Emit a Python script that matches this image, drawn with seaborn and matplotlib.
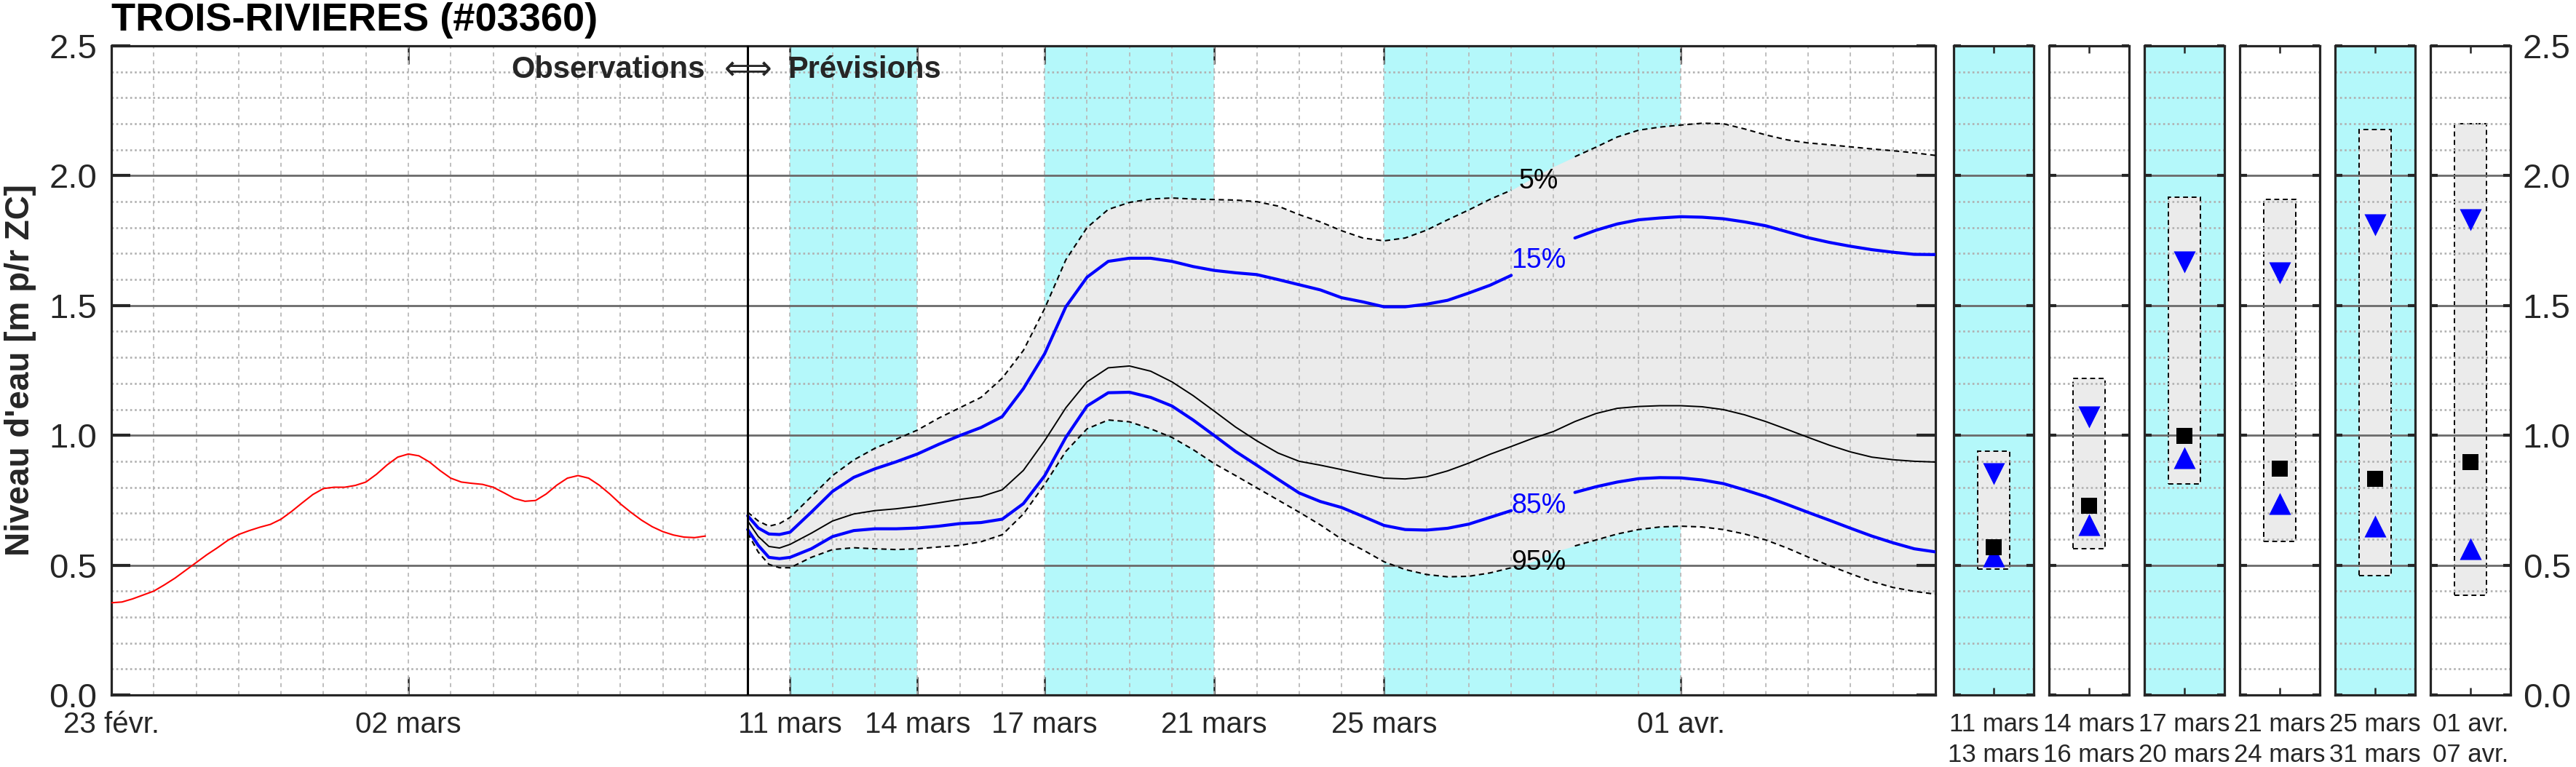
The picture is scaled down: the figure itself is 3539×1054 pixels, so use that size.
import numpy as np
import pandas as pd
import matplotlib
matplotlib.use("Agg")
import matplotlib.pyplot as plt
import seaborn as sns
from matplotlib.ticker import MultipleLocator

# ---------------- data (days counted from 23 févr.) ----------------
obs_days = list(np.arange(0, 14.01, 0.25))
obs_level = [0.355, 0.358, 0.37, 0.385, 0.40, 0.424, 0.45, 0.48, 0.51, 0.54,
             0.567, 0.596, 0.618, 0.633, 0.646, 0.657, 0.677, 0.707, 0.74, 0.772,
             0.795, 0.80, 0.80, 0.807, 0.82, 0.85, 0.886, 0.916, 0.928, 0.921,
             0.897, 0.864, 0.835, 0.82, 0.815, 0.811, 0.80, 0.779, 0.757, 0.746,
             0.749, 0.774, 0.808, 0.835, 0.845, 0.835, 0.808, 0.774, 0.736, 0.703,
             0.673, 0.648, 0.629, 0.616, 0.608, 0.606, 0.612]

fc_days = [15, 15.25, 15.5, 15.75] + list(np.arange(16, 43.01, 0.5))
q05 = [0.704, 0.67, 0.65, 0.66,
       0.684, 0.764, 0.845, 0.905, 0.95, 0.985, 1.02, 1.066, 1.106, 1.146,
       1.22, 1.327, 1.488, 1.676, 1.80, 1.87, 1.897, 1.91, 1.914, 1.91,
       1.908, 1.906, 1.90, 1.883, 1.85, 1.822, 1.788, 1.76, 1.749, 1.76,
       1.79, 1.83, 1.868, 1.909, 1.944, 1.99, 2.035, 2.073, 2.11, 2.149,
       2.175, 2.187, 2.195, 2.202, 2.20, 2.18, 2.157, 2.138, 2.126, 2.119,
       2.111, 2.103, 2.096, 2.088, 2.078]
q15 = [0.69, 0.643, 0.62, 0.618,
       0.627, 0.704, 0.784, 0.838, 0.871, 0.898, 0.928, 0.965, 0.999, 1.03,
       1.072, 1.18, 1.314, 1.495, 1.609, 1.67, 1.682, 1.682, 1.67, 1.65,
       1.635, 1.626, 1.619, 1.60, 1.58, 1.56, 1.53, 1.514, 1.495, 1.495,
       1.505, 1.52, 1.548, 1.578, 1.616, 1.67, 1.73, 1.76, 1.79, 1.814,
       1.83, 1.837, 1.842, 1.84, 1.834, 1.822, 1.807, 1.784, 1.761, 1.743,
       1.728, 1.715, 1.705, 1.697, 1.696]
q50 = [0.67, 0.61, 0.572, 0.566,
       0.58, 0.623, 0.67, 0.697, 0.71, 0.717, 0.727, 0.74, 0.753, 0.764,
       0.79, 0.865, 0.979, 1.106, 1.206, 1.26, 1.267, 1.247, 1.206, 1.153,
       1.093, 1.032, 0.979, 0.932, 0.90, 0.885, 0.868, 0.85, 0.835, 0.832,
       0.84, 0.863, 0.893, 0.927, 0.957, 0.988, 1.015, 1.053, 1.084, 1.104,
       1.111, 1.114, 1.114, 1.11, 1.099, 1.079, 1.053, 1.023, 0.992, 0.962,
       0.936, 0.916, 0.906, 0.90, 0.897]
q85 = [0.637, 0.576, 0.53, 0.525,
       0.53, 0.563, 0.61, 0.633, 0.64, 0.64, 0.643, 0.65, 0.66, 0.664,
       0.677, 0.737, 0.844, 0.992, 1.113, 1.164, 1.166, 1.146, 1.113, 1.059,
       0.999, 0.938, 0.885, 0.831, 0.778, 0.745, 0.722, 0.688, 0.653, 0.637,
       0.635, 0.642, 0.658, 0.684, 0.71, 0.74, 0.764, 0.78, 0.802, 0.82,
       0.833, 0.837, 0.836, 0.828, 0.814, 0.79, 0.764, 0.734, 0.703, 0.673,
       0.642, 0.612, 0.586, 0.563, 0.551]
q95 = [0.623, 0.55, 0.503, 0.49,
       0.49, 0.53, 0.56, 0.567, 0.563, 0.56, 0.563, 0.57, 0.576, 0.59,
       0.617, 0.697, 0.811, 0.938, 1.025, 1.059, 1.052, 1.025, 0.992, 0.945,
       0.891, 0.845, 0.798, 0.751, 0.704, 0.655, 0.60, 0.559, 0.513, 0.483,
       0.464, 0.455, 0.457, 0.47, 0.49, 0.513, 0.551, 0.574, 0.597, 0.62,
       0.637, 0.647, 0.65, 0.647, 0.637, 0.62, 0.597, 0.566, 0.531, 0.498,
       0.467, 0.437, 0.414, 0.399, 0.388]

major_days = [0, 7, 16, 19, 22, 26, 30, 37]
major_labels = ["23 févr.", "02 mars", "11 mars", "14 mars", "17 mars",
                "21 mars", "25 mars", "01 avr."]
forecast_start = 15
x_end = 43

period_start = [16, 19, 22, 26, 30, 37]
period_end = [19, 22, 26, 30, 37, 43]
period_labels = ["11 mars\n13 mars", "14 mars\n16 mars", "17 mars\n20 mars",
                 "21 mars\n24 mars", "25 mars\n31 mars", "01 avr.\n07 avr."]
period_shaded = [True, False, True, False, True, False]

panel_hi = [0.939, 1.22, 1.916, 1.908, 2.177, 2.20]
panel_lo = [0.485, 0.563, 0.813, 0.592, 0.46, 0.384]
panel_q15 = [0.852, 1.07, 1.669, 1.625, 1.81, 1.83]
panel_med = [0.57, 0.728, 0.997, 0.872, 0.832, 0.898]
panel_q85 = [0.534, 0.655, 0.915, 0.737, 0.649, 0.563]

pct_labels = ["5%", "15%", "85%", "95%"]
pct_colors = ["black", "blue", "blue", "black"]
pct_y = [1.98, 1.674, 0.73, 0.51]
pct_x = 33.65

# ---------------- style ----------------
sns.set_theme(style="white")
plt.rcParams['font.family'] = ['Liberation Sans', 'DejaVu Sans']

CYAN = '#b4f8fa'
GRAYFILL = '#ebebeb'
SPINE = '#262626'
DASH = (0, (3.5, 2.5))

W, H = 3539, 1054
fig = plt.figure(figsize=(W / 100, H / 100), dpi=100)
fig.patch.set_facecolor('white')

ax_bottom = (H - 955) / H
ax_height = (955 - 63) / H
ax = fig.add_axes([153 / W, ax_bottom, (2659 - 153) / W, ax_height])
ax.set_facecolor('white')


def style_grid(a, xgrid):
    a.set_axisbelow('line')
    a.yaxis.set_major_locator(MultipleLocator(0.5))
    a.yaxis.set_minor_locator(MultipleLocator(0.1))
    a.grid(which='major', axis='y', color='#6a6a6a', lw=2.0, ls='-')
    a.grid(which='minor', axis='y', color='#b0b0b0', lw=1.9, ls=(0, (1, 1.4)))
    if xgrid:
        a.grid(which='minor', axis='x', color='#bababa', lw=1.3, ls=(0, (3, 3)))
    for sp in a.spines.values():
        sp.set_color(SPINE)
        sp.set_linewidth(2.3)
        sp.set_visible(True)
    a.set_ylim(0, 2.5)


# shaded forecast periods
for s, e, sh in zip(period_start, period_end, period_shaded):
    if sh:
        ax.axvspan(s, e, color=CYAN, lw=0, zorder=0.3)

fc = pd.DataFrame({'day': fc_days, 'q05': q05, 'q15': q15, 'q50': q50,
                   'q85': q85, 'q95': q95})
ax.fill_between(fc['day'], fc['q95'], fc['q05'], color=GRAYFILL, lw=0, zorder=0.6)

obs = pd.DataFrame({'day': obs_days, 'level': obs_level})
sns.lineplot(data=obs, x='day', y='level', ax=ax, color='red', lw=1.5,
             errorbar=None, zorder=3)

left = fc[fc['day'] <= 33.05]
right = fc[fc['day'] >= 34.45]
for seg in (left, right):
    for col in ('q05', 'q95'):
        sns.lineplot(data=seg, x='day', y=col, ax=ax, color='black', lw=1.5,
                     linestyle=DASH, errorbar=None, zorder=3)
    for col in ('q15', 'q85'):
        sns.lineplot(data=seg, x='day', y=col, ax=ax, color='blue', lw=3.0,
                     errorbar=None, zorder=3.2)
sns.lineplot(data=fc, x='day', y='q50', ax=ax, color='black', lw=1.4,
             errorbar=None, zorder=3.1)

ax.axvline(forecast_start, color='black', lw=2.2, zorder=4)

for lab, col, yy in zip(pct_labels, pct_colors, pct_y):
    ax.text(pct_x, yy, lab, color=col, fontsize=27, ha='center', va='center',
            zorder=5)

ax.annotate('Observations', xy=(forecast_start, 2.377), xytext=(-42, 0),
            textcoords='offset points', ha='right', va='baseline',
            fontsize=30, fontweight='bold', zorder=5)
ax.annotate('\u27fa', xy=(forecast_start, 2.405), xytext=(0, 0),
            textcoords='offset points', ha='center', va='center',
            fontsize=33, family=['DejaVu Sans'], zorder=5)
ax.annotate('Prévisions', xy=(forecast_start, 2.377), xytext=(40, 0),
            textcoords='offset points', ha='left', va='baseline',
            fontsize=30, fontweight='bold', zorder=5)

ax.set_xlim(0, x_end)
style_grid(ax, True)
ax.set_xticks(major_days)
ax.set_xticklabels(major_labels)
ax.xaxis.set_minor_locator(MultipleLocator(1))
ax.xaxis.remove_overlapping_locs = False
ax.tick_params(which='minor', length=0)
ax.tick_params(axis='x', which='major', direction='in', top=True, bottom=True,
               length=18, width=1.8, color=SPINE, labelsize=29, pad=16,
               labelcolor='#262626')
ax.tick_params(axis='y', which='major', direction='in', left=True, right=True,
               length=19, width=3.0, color=SPINE, labelsize=34, pad=14,
               labelcolor='#262626')
ax.yaxis.set_major_formatter(matplotlib.ticker.FormatStrFormatter('%.1f'))
ax.set_xlabel('')
ax.set_ylabel("Niveau d'eau [m p/r ZC]", fontsize=33, fontweight='bold',
              color='#262626')
ax.yaxis.set_label_coords(-0.041, 0.5)

fig.text(153 / W, 1 - 42 / H, "TROIS-RIVIERES (#03360)", fontsize=39,
         fontweight='bold', ha='left', va='baseline', color='black')

# ---------------- period panels ----------------
for i in range(6):
    left_px = 2684 + i * 131
    pax = fig.add_axes([left_px / W, ax_bottom, 110 / W, ax_height])
    pax.set_facecolor(CYAN if period_shaded[i] else 'white')
    pax.set_xlim(0, 1)
    style_grid(pax, False)
    pax.bar([0.5], [panel_hi[i] - panel_lo[i]], bottom=[panel_lo[i]], width=0.4,
            color=GRAYFILL, edgecolor='black', linestyle=DASH, linewidth=1.4,
            zorder=0.6)
    sns.scatterplot(x=[0.5], y=[panel_q15[i]], ax=pax, marker='v', s=470,
                    color='blue', linewidth=0, zorder=4)
    sns.scatterplot(x=[0.5], y=[panel_q85[i]], ax=pax, marker='^', s=470,
                    color='blue', linewidth=0, zorder=4)
    sns.scatterplot(x=[0.5], y=[panel_med[i]], ax=pax, marker='s', s=260,
                    color='black', linewidth=0, zorder=4.5)
    pax.set_xlim(0, 1)
    pax.set_ylim(0, 2.5)
    pax.set_xticks([0.5])
    pax.set_xticklabels([period_labels[i]], linespacing=1.35)
    pax.tick_params(which='minor', length=0)
    pax.tick_params(axis='x', which='major', direction='in', top=True,
                    bottom=True, length=7, width=1.8, color=SPINE,
                    labelsize=25, pad=17, labelcolor='#262626')
    pax.tick_params(axis='y', which='major', direction='in', left=True,
                    right=True, length=7, width=3.0, color=SPINE,
                    labelleft=False, labelright=(i == 5), labelsize=34,
                    pad=12, labelcolor='#262626')
    pax.yaxis.set_major_formatter(matplotlib.ticker.FormatStrFormatter('%.1f'))
    pax.set_xlabel('')
    pax.set_ylabel('')

fig.savefig('out.png', dpi=100, facecolor='white')
